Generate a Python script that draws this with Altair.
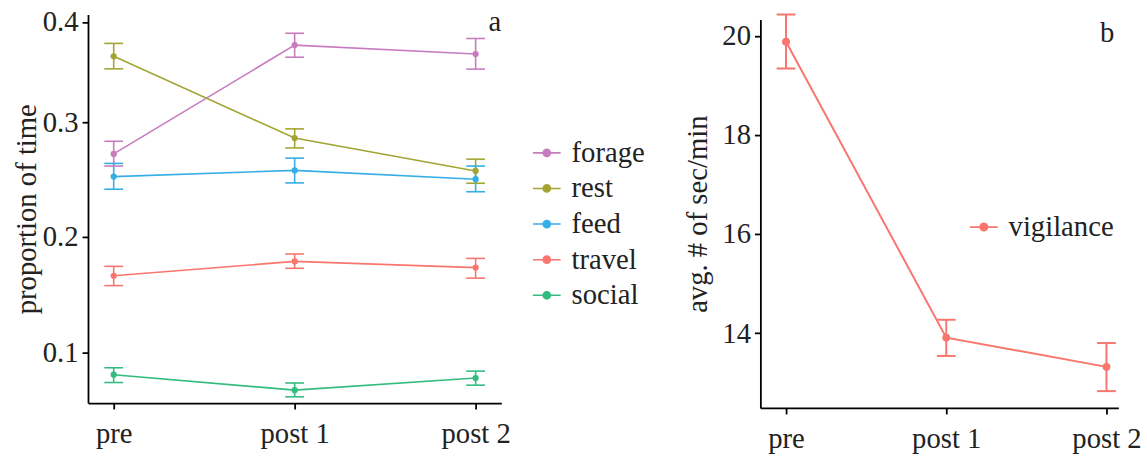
import altair as alt
import pandas as pd

phases = ["pre", "post 1", "post 2"]
behaviors = ["forage", "rest", "feed", "travel", "social"]
colors = ["#C77CC0", "#A3A533", "#35AEE6", "#F8766D", "#33BB80"]

forage_mean = [0.2724, 0.3770, 0.3681]
forage_lo = [0.2618, 0.3649, 0.3530]
forage_hi = [0.2834, 0.3888, 0.3836]
rest_mean = [0.3658, 0.2862, 0.2575]
rest_lo = [0.3533, 0.2776, 0.2468]
rest_hi = [0.3787, 0.2942, 0.2678]
feed_mean = [0.2526, 0.2580, 0.2503]
feed_lo = [0.2416, 0.2471, 0.2394]
feed_hi = [0.2641, 0.2687, 0.2618]
travel_mean = [0.1663, 0.1788, 0.1734]
travel_lo = [0.1578, 0.1728, 0.1643]
travel_hi = [0.1745, 0.1852, 0.1814]
social_mean = [0.0806, 0.0672, 0.0777]
social_lo = [0.0738, 0.0614, 0.0715]
social_hi = [0.0866, 0.0734, 0.0837]

vig_label = ["vigilance"]
vig_color = ["#F8766D"]
vig_mean = [19.88, 13.91, 13.32]
vig_lo = [19.34, 13.54, 12.83]
vig_hi = [20.43, 14.27, 13.80]

panel_tags = ["a", "b"]

series = {
    "forage": (forage_mean, forage_lo, forage_hi),
    "rest": (rest_mean, rest_lo, rest_hi),
    "feed": (feed_mean, feed_lo, feed_hi),
    "travel": (travel_mean, travel_lo, travel_hi),
    "social": (social_mean, social_lo, social_hi),
}
rows = []
for b in behaviors:
    m, lo, hi = series[b]
    for i, p in enumerate(phases):
        rows.append({"phase": p, "behavior": b, "mean": m[i], "lo": lo[i], "hi": hi[i]})
df_a = pd.DataFrame(rows)

df_b = pd.DataFrame({"phase": phases, "measure": vig_label * 3,
                     "mean": vig_mean, "lo": vig_lo, "hi": vig_hi})

FONT = "Liberation Serif"
FS = 29
TXT = "#222222"
SYM = "M-1,0H1M0.26,0A0.26,0.26,0,1,1,-0.26,0A0.26,0.26,0,1,1,0.26,0"

# ---------- panel a ----------
WA, HA = 418, 393
xa = alt.X("phase:O", sort=phases,
           scale=alt.Scale(type="point", padding=0.142),
           axis=alt.Axis(labelAngle=0, title=None))
ya_scale = alt.Scale(domain=[0.056, 0.1, 0.2, 0.3, 0.4, 0.4076],
                     range=[393, 341.7, 225, 109, 7.7, 0], zero=False, nice=False)
ya_axis = alt.Axis(values=[0.1, 0.2, 0.3, 0.4], format=".1f", title="proportion of time",
                   titlePadding=1)
col_a = alt.Color("behavior:N",
                  scale=alt.Scale(domain=behaviors, range=colors),
                  sort=behaviors,
                  legend=alt.Legend(title=None, orient="none", legendX=WA + 31, legendY=125,
                                    symbolType=SYM, symbolSize=784, symbolStrokeWidth=1.6,
                                    labelFont=FONT, labelFontSize=FS, labelColor=TXT,
                                    labelOffset=10, rowPadding=6, padding=0))

base_a = alt.Chart(df_a)
line_a = base_a.mark_line(strokeWidth=1.6).encode(
    x=xa, y=alt.Y("mean:Q", scale=ya_scale, axis=ya_axis), color=col_a)
pt_a = base_a.mark_point(filled=True, size=40, opacity=1).encode(
    x=xa, y=alt.Y("mean:Q", scale=ya_scale), color=col_a)
rule_a = base_a.mark_rule(strokeWidth=1.6).encode(
    x=xa, y=alt.Y("lo:Q", scale=ya_scale), y2="hi:Q", color=col_a)
tlo_a = base_a.mark_tick(size=19, thickness=1.6, opacity=1).encode(
    x=xa, y=alt.Y("lo:Q", scale=ya_scale), color=col_a)
thi_a = base_a.mark_tick(size=19, thickness=1.6, opacity=1).encode(
    x=xa, y=alt.Y("hi:Q", scale=ya_scale), color=col_a)
tag_a = alt.Chart(pd.DataFrame({"tag": [panel_tags[0]]})).mark_text(
    align="right", baseline="alphabetic", font=FONT, fontSize=FS, color=TXT
).encode(text="tag:N", x=alt.value(WA), y=alt.value(17))

chart_a = alt.layer(line_a, rule_a, tlo_a, thi_a, pt_a, tag_a).properties(width=WA, height=HA)

# ---------- panel b ----------
WB, HB = 362, 398
xb = alt.X("phase:O", sort=phases,
           scale=alt.Scale(type="point", padding=0.117, align=0.684),
           axis=alt.Axis(labelAngle=0, title=None))
yb_scale = alt.Scale(domain=[12.49, 20.33], range=[398, 5], zero=False, nice=False)
yb_axis = alt.Axis(values=[14, 16, 18, 20], title="avg. # of sec/min", titlePadding=9)
col_b = alt.Color("measure:N",
                  scale=alt.Scale(domain=vig_label, range=vig_color),
                  legend=alt.Legend(title=None, orient="none", legendX=211, legendY=200,
                                    symbolType=SYM, symbolSize=784, symbolStrokeWidth=1.8,
                                    labelFont=FONT, labelFontSize=FS, labelColor=TXT,
                                    labelOffset=10, padding=0))

base_b = alt.Chart(df_b)
line_b = base_b.mark_line(strokeWidth=2).encode(
    x=xb, y=alt.Y("mean:Q", scale=yb_scale, axis=yb_axis), color=col_b)
pt_b = base_b.mark_point(filled=True, size=64, opacity=1).encode(
    x=xb, y=alt.Y("mean:Q", scale=yb_scale), color=col_b)
rule_b = base_b.mark_rule(strokeWidth=2).encode(
    x=xb, y=alt.Y("lo:Q", scale=yb_scale), y2="hi:Q", color=col_b)
tlo_b = base_b.mark_tick(size=19, thickness=2, opacity=1).encode(
    x=xb, y=alt.Y("lo:Q", scale=yb_scale), color=col_b)
thi_b = base_b.mark_tick(size=19, thickness=2, opacity=1).encode(
    x=xb, y=alt.Y("hi:Q", scale=yb_scale), color=col_b)
tag_b = alt.Chart(pd.DataFrame({"tag": [panel_tags[1]]})).mark_text(
    align="right", baseline="alphabetic", font=FONT, fontSize=FS, color=TXT
).encode(text="tag:N", x=alt.value(WB - 4), y=alt.value(28.3))

chart_b = alt.layer(line_b, rule_b, tlo_b, thi_b, pt_b, tag_b).properties(width=WB, height=HB)

chart = alt.hconcat(chart_a, chart_b, spacing=39).resolve_scale(
    color="independent", x="independent", y="independent"
).properties(padding={"left": 12, "top": 5, "right": 5, "bottom": 5}).configure_view(
    stroke=None
).configure_axis(
    grid=False, domainColor="black", domainWidth=1.8, tickColor="black", tickWidth=1.8,
    tickSize=6, labelFont=FONT, labelFontSize=FS, labelColor=TXT, labelPadding=4,
    titleFont=FONT, titleFontSize=FS, titleFontWeight="normal", titleColor=TXT
).configure_axisX(labelPadding=11)

chart.save("out.html", embed_options={"renderer": "svg", "actions": False})
